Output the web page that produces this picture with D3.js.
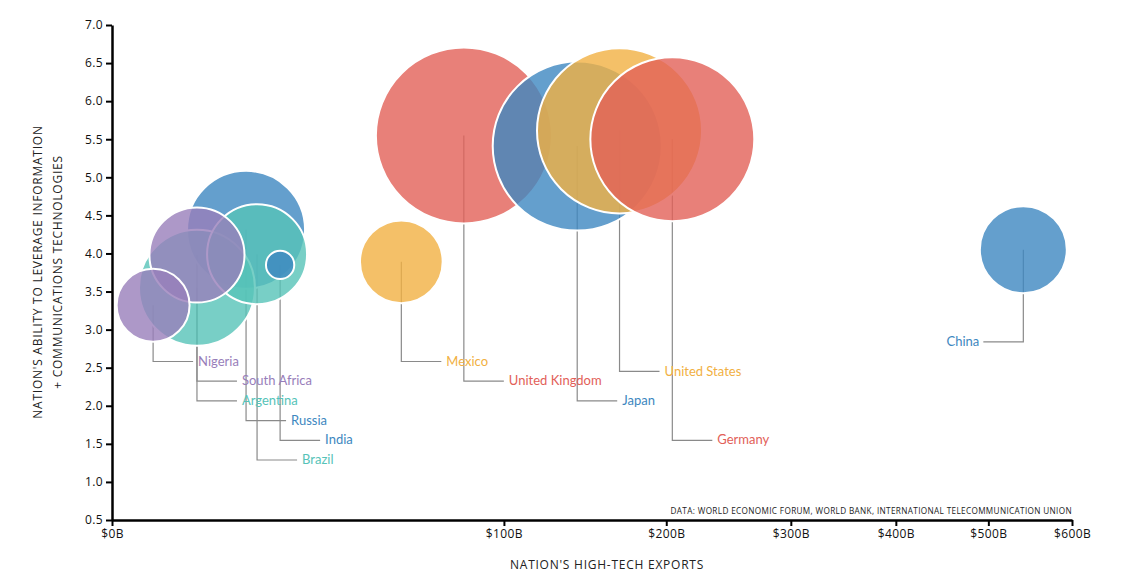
<!DOCTYPE html>
<html>
  <head>
    <title>High-tech exports vs ICT readiness</title>
    <style>
      body,
      html {
        margin: 0;
        padding: 0;
        background: #fff;
      }
      .axis text {
        font-family: 'Open Sans', sans-serif;
        font-size: 12px;
        letter-spacing: 0.4px;
        fill: #111;
      }
      .axis-title {
        font-family: 'Open Sans', sans-serif;
        font-size: 12px;
        fill: #222;
        letter-spacing: 0.75px;
      }
      .label {
        font-family: Lato, sans-serif;
        font-size: 13px;
      }
    </style>
  </head>
  <body>
    <svg id="svg" width="1147" height="580"></svg>

    <script src="https://cdn.jsdelivr.net/npm/d3@7"></script>
    <script>
      // values
      const countries = ['United Kingdom', 'Japan', 'United States', 'Germany', 'Russia', 'Argentina',
        'Brazil', 'South Africa', 'China', 'Mexico', 'Nigeria', 'India'];
      const hiTechExports = [80.6, 140.9, 167.7, 204.4, 11.7, 4.7, 13.7, 4.7, 540.7, 54.5, 1.1, 18.4]; // $B
      const ictScore = [5.55, 5.41, 5.61, 5.5, 4.31, 3.55, 3.99, 3.98, 4.05, 3.89, 3.32, 3.85];
      const bubbleSize = [77.4, 71.4, 68.1, 67.2, 34.8, 33.6, 25.0, 22.6, 18.9, 17.1, 13.3, 2.0];
      const groups = ['red', 'blue', 'orange', 'red', 'blue', 'teal', 'teal', 'purple', 'blue', 'orange', 'purple', 'blue'];
      // row of the label under the chart (0 = top row)
      const labelRow = [1, 2, 0.5, 4, 3, 2, 5, 1, -1, 0, 0, 4];
      const labelSide = ['right', 'right', 'right', 'right', 'right', 'right', 'right', 'right', 'left', 'right', 'right', 'right'];

      const xTicks = [0, 100, 200, 300, 400, 500, 600];
      const yTicks = d3.range(0.5, 7.01, 0.5);

      const colors = {
        red: '#e26058',
        blue: '#3d87c0',
        orange: '#f1b042',
        teal: '#56c3b8',
        purple: '#987eba'
      };

      const data = countries.map((c, i) => ({
        country: c,
        exports: hiTechExports[i],
        score: ictScore[i],
        size: bubbleSize[i],
        group: groups[i],
        row: labelRow[i],
        side: labelSide[i]
      }));

      const svg = d3.select('#svg');
      const plotLeft = 112;
      const plotRight = 1072;
      const plotTop = 25;
      const plotBottom = 520;

      const xScale = d3.scaleSqrt().domain([0, 600]).range([plotLeft, plotRight]);
      const yScale = d3.scaleLinear().domain([0.5, 7]).range([plotBottom, plotTop]);
      const rScale = d3.scaleSqrt().domain([0, 100]).range([0, 100]);
      const rowY = (r) => 361.5 + r * 19.7;

      // leader lines sit under the bubbles
      const leaders = svg.append('g');
      data.forEach((d) => {
        const cx = xScale(d.exports);
        const cy = yScale(d.score);
        const ly = rowY(d.row);
        const ex = d.side === 'left' ? cx - 40 : cx + 40;
        leaders
          .append('path')
          .attr('d', `M${cx},${cy}V${ly}H${ex}`)
          .attr('fill', 'none')
          .attr('stroke', '#8a8a8a')
          .attr('stroke-width', 1.2);
      });

      svg
        .append('g')
        .selectAll('circle')
        .data(data)
        .join('circle')
        .attr('cx', (d) => xScale(d.exports))
        .attr('cy', (d) => yScale(d.score))
        .attr('r', (d) => rScale(d.size))
        .attr('fill', (d) => colors[d.group])
        .attr('fill-opacity', 0.8)
        .attr('stroke', '#fff')
        .attr('stroke-width', 2);

      svg
        .append('g')
        .selectAll('text')
        .data(data)
        .join('text')
        .attr('class', 'label')
        .attr('x', (d) => (d.side === 'left' ? xScale(d.exports) - 44 : xScale(d.exports) + 45))
        .attr('y', (d) => rowY(d.row))
        .attr('dy', '0.32em')
        .attr('text-anchor', (d) => (d.side === 'left' ? 'end' : 'start'))
        .attr('fill', (d) => colors[d.group])
        .text((d) => d.country);

      const bottomAxis = d3
        .axisBottom(xScale)
        .tickValues(xTicks)
        .tickSizeOuter(0)
        .tickFormat((d) => `$${d}B`);
      const leftAxis = d3
        .axisLeft(yScale)
        .tickValues(yTicks)
        .tickSizeOuter(0)
        .tickFormat(d3.format('.1f'));

      const gx = svg
        .append('g')
        .attr('class', 'axis')
        .attr('transform', `translate(0, ${plotBottom})`)
        .call(bottomAxis);
      const gy = svg
        .append('g')
        .attr('class', 'axis')
        .attr('transform', `translate(${plotLeft}, 0)`)
        .call(leftAxis);
      [gx, gy].forEach((g) => {
        g.select('.domain').attr('stroke', '#000').attr('stroke-width', 2.5);
        g.selectAll('.tick line').attr('stroke', '#000').attr('stroke-width', 2);
      });

      svg
        .append('text')
        .attr('class', 'axis-title')
        .attr('x', 607)
        .attr('y', 569)
        .attr('text-anchor', 'middle')
        .text("NATION'S HIGH-TECH EXPORTS");

      const yTitle = svg
        .append('text')
        .attr('class', 'axis-title')
        .attr('transform', 'translate(42, 272) rotate(-90)')
        .attr('text-anchor', 'middle');
      yTitle.append('tspan').attr('x', 0).attr('y', 0).text("NATION'S ABILITY TO LEVERAGE INFORMATION");
      yTitle.append('tspan').attr('x', 0).attr('y', 20).text('+ COMMUNICATIONS TECHNOLOGIES');

      svg
        .append('text')
        .attr('x', plotRight)
        .attr('y', 514)
        .attr('text-anchor', 'end')
        .attr('font-family', "'Open Sans', sans-serif")
        .attr('font-size', 8.2)
        .attr('letter-spacing', 0.35)
        .attr('fill', '#222')
        .text('DATA: WORLD ECONOMIC FORUM, WORLD BANK, INTERNATIONAL TELECOMMUNICATION UNION');
    </script>
  </body>
</html>
